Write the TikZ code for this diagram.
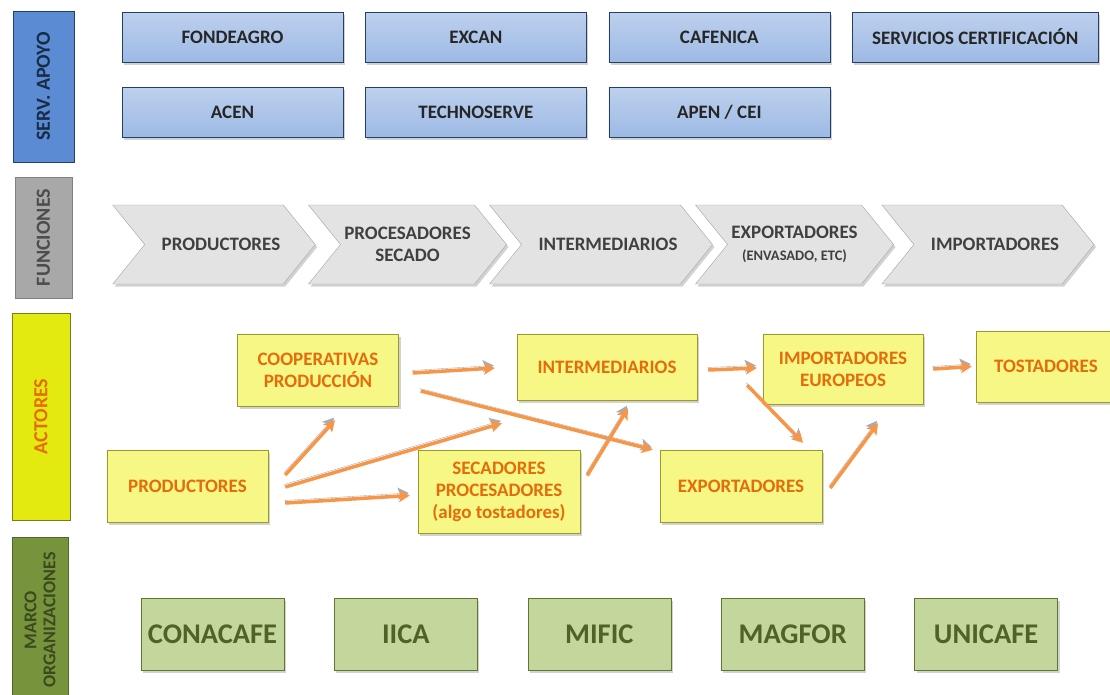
\documentclass[tikz,border=0pt]{standalone}
\usepackage{fontspec}
\setmainfont{Carlito}
\usetikzlibrary{positioning,shapes.symbols,shadows,arrows.meta}

\definecolor{servblue}{HTML}{5B8BD3}
\definecolor{navy}{HTML}{243F66}
\definecolor{chevgray}{HTML}{E3E3E3}
\definecolor{sidegray}{HTML}{A8A8A8}
\definecolor{sideyellow}{HTML}{E2EA10}
\definecolor{boxyellow}{HTML}{F6F785}
\definecolor{olive}{HTML}{9A9A28}
\definecolor{actorange}{HTML}{E46C0A}
\definecolor{arroworange}{HTML}{F79646}
\definecolor{arrowshade}{HTML}{A3ADBD}
\definecolor{marcogreen}{HTML}{77933C}
\definecolor{boxgreen}{HTML}{C3D69B}
\definecolor{darkgreen}{HTML}{4F6228}

\begin{document}
\begin{tikzpicture}[
                    x=1pt, y=-1pt,
                    >={Stealth[length=11pt,width=12pt,inset=2.5pt]},
                    font=\bfseries\fontsize{19}{22}\selectfont,
                    every node/.style={align=center, inner sep=3pt},
                    shade/.style={drop shadow={opacity=.35, shadow xshift=2pt, shadow yshift=-2.5pt}},
                    side/.style={rotate=90, minimum height=58pt, font=\bfseries\fontsize{20}{22}\selectfont},
                    apoyo/.style={shade, draw=navy, top color=servblue!40!white, bottom color=servblue!60!white,
                                  text=black!85, minimum width=221pt, minimum height=50pt},
                    funcion/.style={shade, shape=signal, signal from=west, signal to=east, signal pointer angle=102,
                                    draw=black!35, fill=chevgray, text=black!75, minimum width=198pt, minimum height=79pt},
                    actor/.style={shade, draw=olive, fill=boxyellow, text=actorange, minimum width=161pt},
                    org/.style={shade, draw=marcogreen!80!black, fill=boxgreen, text=darkgreen,
                                font=\bfseries\fontsize{28.5}{30}\selectfont, minimum width=143pt, minimum height=72pt},
                    flow/.style={->, draw=arroworange, line width=3.5pt,
                                 preaction={draw=arrowshade, transform canvas={shift={(-1pt,2.5pt)}}}}
                ]
                \useasboundingbox[fill=white] (0,0) rectangle (1110,694);

                % side labels
                \node[side, draw=navy, fill=servblue, text=navy!70!black, minimum width=151pt, minimum height=61pt] (l-serv) at (43.5,86.5) {SERV. APOYO} ;
                \node[side, draw=black!50, fill=sidegray, text=black!70, minimum width=121pt, minimum height=57pt] (l-func) at (43.5,237.5) {FUNCIONES} ;
                \node[side, draw=olive!80!black, fill=sideyellow, text=actorange, minimum width=207pt] (l-act) at (41,416.5) {ACTORES} ;
                \node[side, draw=marcogreen!70!black, fill=marcogreen, text=darkgreen!75!black, minimum width=166pt, minimum height=56pt,
                      font=\bfseries\fontsize{18}{19}\selectfont] (l-marco) at (40,620) {MARCO\\ORGANIZACIONES} ;

                % servicios de apoyo
                \node[apoyo] (fondeagro) at (232.5,37) {FONDEAGRO} ;
                \node[apoyo] (excan) [right=22pt of fondeagro] {EXCAN} ;
                \node[apoyo] (cafenica) [right=22pt of excan] {CAFENICA} ;
                \node[apoyo, minimum width=246pt] (certif) [right=22pt of cafenica] {SERVICIOS CERTIFICACIÓN} ;
                \node[apoyo] (acen) [below=25pt of fondeagro] {ACEN} ;
                \node[apoyo] (technoserve) [below=25pt of excan] {TECHNOSERVE} ;
                \node[apoyo] (apen) [below=25pt of cafenica] {APEN / CEI} ;

                % funciones
                \node[funcion] (f-prod) at (214,244.5) {\hspace*{14pt}PRODUCTORES} ;
                \node[funcion] (f-proc) at (407.5,244.5) {PROCESADORES\\SECADO} ;
                \node[funcion] (f-inter) at (601,244.5) {\hspace*{14pt}INTERMEDIARIOS} ;
                \node[funcion] (f-expo) at (794.5,244.5) {EXPORTADORES\\{\fontsize{14.5}{16}\selectfont (ENVASADO, ETC)}} ;
                \node[funcion] (f-impo) at (988,244.5) {\hspace*{14pt}IMPORTADORES} ;

                % actores
                \node[actor, minimum height=72pt] (coop) at (318,370) {COOPERATIVAS\\PRODUCCIÓN} ;
                \node[actor, minimum width=180pt, minimum height=66pt] (inter) at (607,367) {INTERMEDIARIOS} ;
                \node[actor, minimum width=160pt, minimum height=70pt] (impo) at (843,369) {IMPORTADORES\\EUROPEOS} ;
                \node[actor, minimum width=140pt, minimum height=71pt] (tost) at (1046,366.5) {TOSTADORES} ;
                \node[actor, minimum height=72pt] (prod) at (187.5,486) {PRODUCTORES} ;
                \node[actor, minimum width=162pt, minimum height=83pt] (secad) at (499,491.5) {SECADORES\\PROCESADORES\\(algo tostadores)} ;
                \node[actor, minimum width=162pt, minimum height=72pt] (expo) at (741,486) {EXPORTADORES} ;

                \draw[flow] ([shift={(17,-11)}]prod.east) -- ([shift={(17,14)}]coop.south) ;
                \draw[flow] ([shift={(17,1)}]prod.east) -- ([shift={(-15,23)}]inter.south west) ;
                \draw[flow] ([shift={(17,17)}]prod.east) -- ([shift={(-8,4)}]secad.west) ;
                \draw[flow] ([shift={(14,3)}]coop.east) -- ([shift={(-22,1)}]inter.west) ;
                \draw[flow] ([shift={(22,21)}]coop.east) -- ([shift={(-7,0)}]expo.north west) ;
                \draw[flow] ([shift={(7,-16)}]secad.east) -- ([shift={(21,8)}]inter.south) ;
                \draw[flow] ([shift={(11,3)}]inter.east) -- ([shift={(-6,-1)}]impo.west) ;
                \draw[flow] ([shift={(50,-15)}]inter.south east) -- ([shift={(62,-7)}]expo.north) ;
                \draw[flow] ([shift={(8,2)}]expo.east) -- ([shift={(35,19)}]impo.south) ;
                \draw[flow] ([shift={(10,0)}]impo.east) -- ([shift={(-4,0)}]tost.west) ;

                % marco organizaciones
                \node[org] (conacafe) at (212.5,634) {CONACAFE} ;
                \node[org] (iica) [right=50pt of conacafe] {IICA} ;
                \node[org] (mific) [right=50pt of iica] {MIFIC} ;
                \node[org] (magfor) [right=50pt of mific] {MAGFOR} ;
                \node[org] (unicafe) [right=50pt of magfor] {UNICAFE} ;
            \end{tikzpicture}
\end{document}
